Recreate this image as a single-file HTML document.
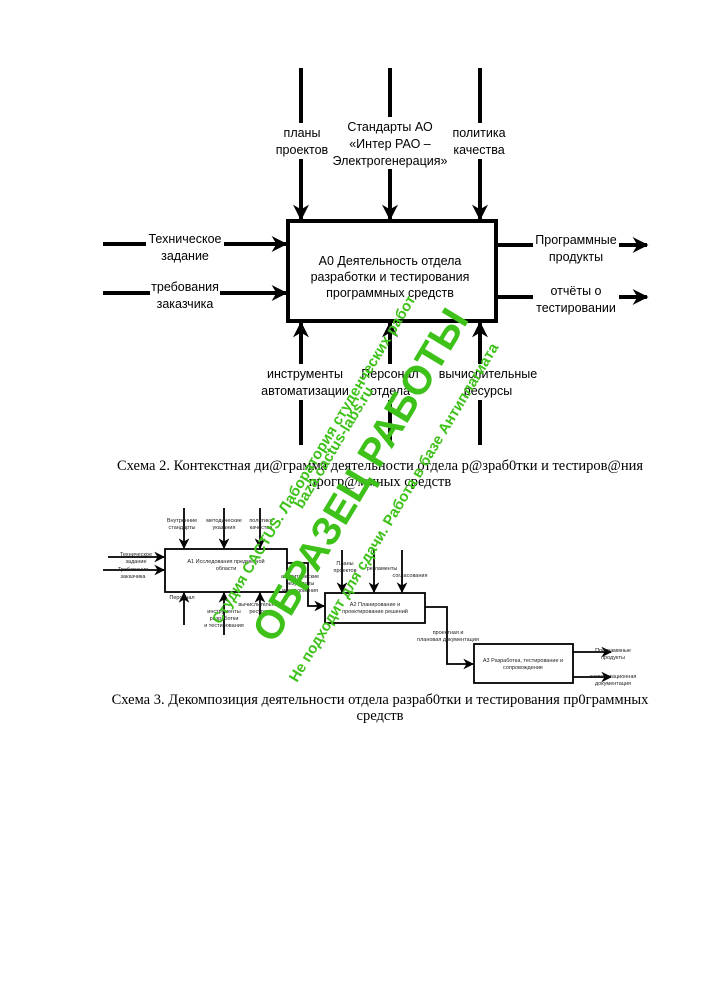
<!DOCTYPE html>
<html><head><meta charset="utf-8"><style>
html,body{margin:0;padding:0;background:#fff;}
svg{display:block;}
.s{font-family:"Liberation Sans",sans-serif;}
.c{font-family:"Liberation Serif",serif;font-size:14.5px;}
</style></head><body>
<svg width="707" height="1000" viewBox="0 0 707 1000" xmlns="http://www.w3.org/2000/svg">
<defs>
<marker id="a" viewBox="0 0 10 10" refX="9" refY="5" markerWidth="4" markerHeight="4" orient="auto"><path d="M0,0 L10,5 L0,10 L3,5 z" fill="#000"/></marker>
<marker id="b" viewBox="0 0 10 10" refX="9" refY="5" markerWidth="6" markerHeight="6" orient="auto"><path d="M0,0 L10,5 L0,10 L3,5 z" fill="#000"/></marker>
</defs>
<g stroke="#000" stroke-width="4" fill="none">
<rect x="288" y="221" width="208" height="100"/>
<line x1="301" y1="68" x2="301" y2="219" marker-end="url(#a)"/>
<line x1="390" y1="68" x2="390" y2="219" marker-end="url(#a)"/>
<line x1="480" y1="68" x2="480" y2="219" marker-end="url(#a)"/>
<line x1="103" y1="244" x2="286" y2="244" marker-end="url(#a)"/>
<line x1="103" y1="293" x2="286" y2="293" marker-end="url(#a)"/>
<line x1="498" y1="245" x2="647" y2="245" marker-end="url(#a)"/>
<line x1="498" y1="297" x2="647" y2="297" marker-end="url(#a)"/>
<line x1="301" y1="445" x2="301" y2="323" marker-end="url(#a)"/>
<line x1="390" y1="445" x2="390" y2="323" marker-end="url(#a)"/>
<line x1="480" y1="445" x2="480" y2="323" marker-end="url(#a)"/>
</g>
<g fill="#fff">
<rect x="276" y="123" width="52" height="36"/>
<rect x="335" y="117" width="112" height="52"/>
<rect x="450" y="123" width="58" height="36"/>
<rect x="146" y="230" width="78" height="34"/>
<rect x="150" y="278" width="70" height="34"/>
<rect x="533" y="230" width="86" height="34"/>
<rect x="533" y="282" width="86" height="34"/>
<rect x="260" y="364" width="90" height="36"/>
<rect x="362" y="364" width="58" height="36"/>
<rect x="440" y="364" width="96" height="36"/>
</g>
<g class="s" font-size="12.5" text-anchor="middle" fill="#000">
<text x="302" y="137">планы</text><text x="302" y="154">проектов</text>
<text x="390" y="131">Стандарты АО</text><text x="390" y="148">«Интер РАО –</text><text x="390" y="165">Электрогенерация»</text>
<text x="479" y="137">политика</text><text x="479" y="154">качества</text>
<text x="185" y="243">Техническое</text><text x="185" y="260">задание</text>
<text x="185" y="291">требования</text><text x="185" y="308">заказчика</text>
<text x="576" y="244">Программные</text><text x="576" y="261">продукты</text>
<text x="576" y="295">отчёты о</text><text x="576" y="312">тестировании</text>
<text x="390" y="265">А0 Деятельность отдела</text><text x="390" y="281">разработки и тестирования</text><text x="390" y="297">программных средств</text>
<text x="305" y="378">инструменты</text><text x="305" y="395">автоматизации</text>
<text x="390" y="378">Персонал</text><text x="390" y="395">отдела</text>
<text x="488" y="378">вычислительные</text><text x="488" y="395">ресурсы</text>
</g>
<text class="c" x="380" y="470" text-anchor="middle">Схема 2. Контекстная ди@грамма деятельности отдела р@зраб0тки и тестиров@ния</text>
<text class="c" x="380" y="486" text-anchor="middle">прогр@ммных средств</text>

<g stroke="#000" stroke-width="1.8" fill="none">
<rect x="165" y="549" width="122" height="43"/>
<rect x="325" y="593" width="100" height="30"/>
<rect x="474" y="644" width="99" height="39"/>
<line x1="184" y1="508" x2="184" y2="548" marker-end="url(#b)"/>
<line x1="224" y1="508" x2="224" y2="548" marker-end="url(#b)"/>
<line x1="260" y1="508" x2="260" y2="548" marker-end="url(#b)"/>
<line x1="108" y1="557" x2="164" y2="557" marker-end="url(#b)"/>
<line x1="103" y1="570" x2="164" y2="570" marker-end="url(#b)"/>
<line x1="184" y1="625" x2="184" y2="593" marker-end="url(#b)"/>
<line x1="224" y1="635" x2="224" y2="593" marker-end="url(#b)"/>
<line x1="260" y1="625" x2="260" y2="593" marker-end="url(#b)"/>
<polyline points="287,563 308,563 308,606 324,606" marker-end="url(#b)"/>
<line x1="342" y1="550" x2="342" y2="592" marker-end="url(#b)"/>
<line x1="374" y1="550" x2="374" y2="592" marker-end="url(#b)"/>
<line x1="402" y1="550" x2="402" y2="592" marker-end="url(#b)"/>
<polyline points="425,607 447,607 447,664 473,664" marker-end="url(#b)"/>
<line x1="573" y1="652" x2="611" y2="652" marker-end="url(#b)"/>
<line x1="573" y1="677" x2="611" y2="677" marker-end="url(#b)"/>
</g>
<g class="s" font-size="5.5" text-anchor="middle" fill="#222">
<text x="182" y="522">Внутренние</text><text x="182" y="529">стандарты</text>
<text x="224" y="522">методические</text><text x="224" y="529">указания</text>
<text x="261" y="522">политика</text><text x="261" y="529">качества</text>
<text x="136" y="556">Техническое</text><text x="136" y="563">задание</text>
<text x="133" y="571">Требования</text><text x="133" y="578">заказчика</text>
<text x="226" y="563">А1 Исследования предметной</text><text x="226" y="570">области</text>
<text x="182" y="599">Персонал</text>
<text x="224" y="613">инструменты</text><text x="224" y="620">разработки</text><text x="224" y="627">и тестирования</text>
<text x="260" y="606">вычислительные</text><text x="260" y="613">ресурсы</text>
<text x="300" y="578">аналитические</text><text x="300" y="585">результаты</text><text x="300" y="592">исследования</text>
<text x="345" y="565">Планы</text><text x="345" y="572">проектов</text>
<text x="382" y="570">регламенты</text>
<text x="410" y="577">согласования</text>
<text x="375" y="606">А2 Планирование и</text><text x="375" y="613">проектирование решений</text>
<text x="448" y="634">проектная и</text><text x="448" y="641">плановая документация</text>
<text x="523" y="662">А3 Разработка, тестирование и</text><text x="523" y="669">сопровождение</text>
<text x="613" y="652">Программные</text><text x="613" y="659">продукты</text>
<text x="613" y="678">эксплуатационная</text><text x="613" y="685">документация</text>
</g>
<text class="c" x="380" y="704" text-anchor="middle">Схема 3. Декомпозиция деятельности отдела разраб0тки и тестирования пр0граммных</text>
<text class="c" x="380" y="720" text-anchor="middle">средств</text>

<g fill="#3ec21a" class="s" text-anchor="middle">
<text x="372" y="482" font-size="40" font-weight="bold" transform="rotate(-59 372 482)">ОБРАЗЕЦ РАБОТЫ</text>
<text x="318" y="462" font-size="15" font-weight="600" transform="rotate(-59 318 462)">Студия CACTUS. Лаборатория студенческих работ</text>
<text x="338" y="450" font-size="15" font-weight="600" transform="rotate(-59 338 450)">baza.cactus-labs.ru</text>
<text x="398" y="515" font-size="15" font-weight="600" transform="rotate(-59 398 515)">Не подходит для сдачи. Работа в базе Антиплагиата</text>
</g>
</svg>
</body></html>
